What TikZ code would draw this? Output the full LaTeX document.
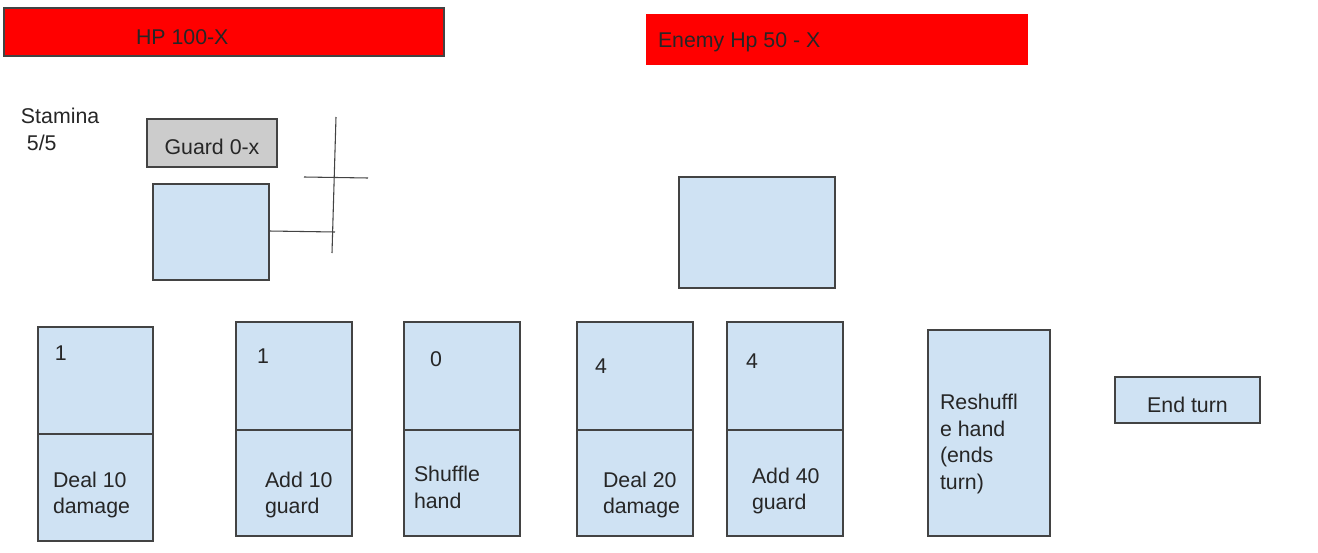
\documentclass[tikz,border=0pt]{standalone}
\usepackage{fontspec}
\setmainfont{Liberation Sans}
\definecolor{linec}{HTML}{434343}
\definecolor{bluef}{HTML}{CFE2F3}
\definecolor{grayf}{HTML}{CCCCCC}
\definecolor{redf}{HTML}{FF0000}
\tikzset{
  box/.style={draw=linec, line width=0.9pt, inner sep=0pt, outer sep=0pt, rectangle},
  bluebox/.style={box, fill=bluef},
  txt/.style={inner sep=0pt, outer sep=0pt, font=\fontsize{16}{20.2}\selectfont, text=black!85, align=left},
  stroke/.style={draw=linec, line width=0.8pt},
}
\newcommand\pbox[6]{% style, name, x1,y1,x2,y2
  \node[#1, minimum width={(#5-#3)*0.75pt}, minimum height={(#6-#4)*0.75pt}] (#2) at ({(#3+#5)/2},{(#4+#6)/2}) {};}
\begin{document}
\begin{tikzpicture}[x=0.75pt,y=-0.75pt]
\useasboundingbox[fill=white] (0,0) rectangle (1318,553);
% HP bars
\pbox{box, fill=redf}{hp}{4}{8}{444}{56}
\node[txt, anchor=west] (hpt) at (136,37) {HP 100-X};
\pbox{box, draw=redf, fill=redf}{ehp}{647}{15}{1027}{64}
\node[txt, anchor=west] (ehpt) at (658,42) {Enemy Hp 50 - X};
% stamina
\node[txt, anchor=west] (stam) at (21,129) {Stamina\\\ 5/5};
% guard
\pbox{box, fill=grayf}{guard}{147}{119}{277}{167}
\node[txt, yshift=-3pt] (guardt) at (guard.center) {Guard 0-x};
% player / enemy
\pbox{bluebox}{player}{153}{184}{269}{280}
\pbox{bluebox}{enemy}{679}{177}{835}{288}
% sketch lines
\coordinate (v1) at (336,117);
\coordinate (v2) at (332,253);
\coordinate (h1) at (304,177);
\coordinate (h2) at (368,178);
\coordinate (pj) at (335,232);
\draw[stroke] (v1) -- (v2);
\draw[stroke] (h1) -- (h2);
\draw[stroke] (player.east |- 0,231) -- (pj);
% cards
\newcommand\card[6]{% name x1 y1 x2 y2 divider
  \pbox{bluebox}{#1}{#2}{#3}{#4}{#5}
  \draw[stroke] (#1.west |- 0,#6) -- (#1.east |- 0,#6);}
\card{c1}{38}{327}{153}{541}{434}
\card{c2}{236}{322}{352}{536}{430}
\card{c3}{404}{322}{520}{536}{430}
\card{c4}{577}{322}{693}{536}{430}
\card{c5}{727}{322}{843}{536}{430}
\pbox{bluebox}{c6}{928}{330}{1050}{536}
\pbox{bluebox}{endturn}{1115}{377}{1260}{423}
% card texts
\node[txt, anchor=west] (c1n) at (55,353) {1};
\node[txt, anchor=west] (c1t) at (53,495) {Deal 10\\damage};
\node[txt, anchor=west] (c2n) at (257,356) {1};
\node[txt, anchor=west] (c2t) at (265,495) {Add 10\\guard};
\node[txt, anchor=west] (c3n) at (430,359) {0};
\node[txt, anchor=west] (c3t) at (414,487) {Shuffle\\hand};
\node[txt, anchor=west] (c4n) at (595,366) {4};
\node[txt, anchor=west] (c4t) at (603,495) {Deal 20\\damage};
\node[txt, anchor=west] (c5n) at (746,361) {4};
\node[txt, anchor=west] (c5t) at (752,491) {Add 40\\guard};
\node[txt, anchor=west] (c6t) at (940,444) {Reshuffl\\e hand\\(ends\\turn)};
\node[txt, yshift=-3.5pt] (ett) at (endturn.center) {End turn};
\end{tikzpicture}
\end{document}
